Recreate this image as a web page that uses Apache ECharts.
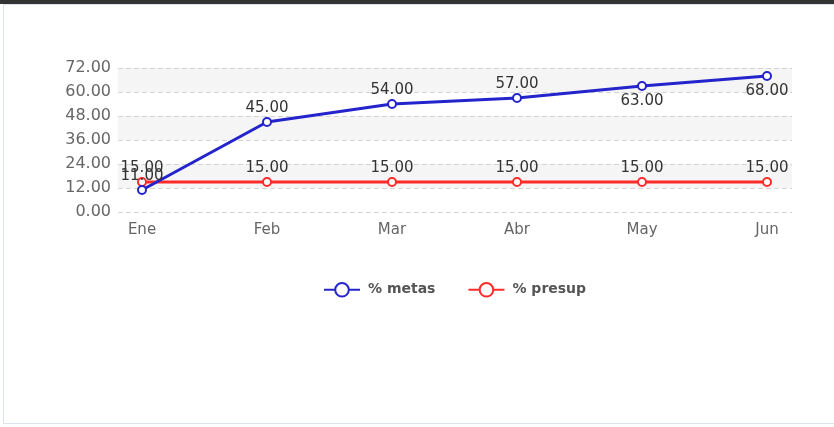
<!DOCTYPE html>
<html>
<head>
<meta charset="utf-8">
<script src="https://cdn.jsdelivr.net/npm/echarts@6/dist/echarts.min.js"></script>
<style>
  html, body { margin: 0; padding: 0; background: #fff; }
  #bar { position: absolute; left: 0; top: 0; width: 834px; height: 4px; background: #333; }
  #panel { position: absolute; left: 3px; top: 4px; width: 840px; height: 418px; border: 1px solid #dde3ea; }
  #chart { position: absolute; left: 0; top: 0; width: 834px; height: 427px; }
</style>
</head>
<body>
<div id="bar"></div>
<div id="panel"></div>
<div id="chart"></div>
<script>
// months and series
const months = ['Ene', 'Feb', 'Mar', 'Abr', 'May', 'Jun'];
const metas = [11, 45, 54, 57, 63, 68];
const presup = [15, 15, 15, 15, 15, 15];
// label side per point of "% metas" (the top two sit under their points)
const metasLabelPos = ['top', 'top', 'top', 'top', 'bottom', 'bottom'];

const font = 'DejaVu Sans';
const yMin = 0, yMax = 72, yStep = 12;

const chart = echarts.init(document.getElementById('chart'), null, { renderer: 'canvas' });

chart.setOption({
  animation: false,
  textStyle: { fontFamily: font },
  grid: [
    // background grid: bands, dashed lines and y labels, wider than the data
    { left: 118, right: 42, top: 68, bottom: 215 },
    // data grid: first and last month sit inside the bands
    { left: 142, right: 67, top: 68, bottom: 215 }
  ],
  xAxis: [
    { gridIndex: 0, type: 'category', data: months, show: false },
    {
      gridIndex: 1, type: 'category', data: months, boundaryGap: false,
      axisLine: { show: false }, axisTick: { show: false },
      axisLabel: { color: '#666', fontSize: 15, margin: 11, fontFamily: font }
    }
  ],
  yAxis: [
    {
      gridIndex: 0, type: 'value', min: yMin, max: yMax, interval: yStep,
      axisLine: { show: false }, axisTick: { show: false },
      axisLabel: {
        color: '#666', fontSize: 16, margin: 7, fontFamily: font,
        formatter: v => v.toFixed(2)
      },
      splitLine: { lineStyle: { color: '#d4d4d4', type: [5, 3] } },
      splitArea: { show: true, areaStyle: { color: ['rgba(255,255,255,0)', '#f5f5f5'] } }
    },
    {
      gridIndex: 1, type: 'value', min: yMin, max: yMax, interval: yStep,
      show: false, splitLine: { show: false }
    }
  ],
  legend: {
    left: 318, top: 277,
    itemWidth: 36, itemHeight: 17, itemGap: 32,
    textStyle: { color: '#555', fontSize: 14, fontWeight: 'bold', fontFamily: font, padding: [0, 0, 0, 3] },
    data: ['% metas', '% presup']
  },
  series: [
    {
      name: '% presup', type: 'line', xAxisIndex: 1, yAxisIndex: 1,
      data: presup,
      symbol: 'emptyCircle', symbolSize: 8,
      itemStyle: { color: '#ff2b2b', borderWidth: 1.5 },
      lineStyle: { color: '#ff2b2b', width: 3 },
      label: {
        show: true, position: 'top', distance: 1,
        color: '#333', fontSize: 15, fontFamily: font,
        formatter: p => p.value.toFixed(2)
      }
    },
    {
      name: '% metas', type: 'line', xAxisIndex: 1, yAxisIndex: 1,
      data: metas.map((v, i) => ({
        value: v,
        label: { position: metasLabelPos[i], distance: metasLabelPos[i] === 'top' ? 1 : 3 }
      })),
      symbol: 'emptyCircle', symbolSize: 8,
      itemStyle: { color: '#2424cc', borderWidth: 1.5 },
      lineStyle: { color: '#2424cc', width: 3 },
      label: {
        show: true,
        color: '#333', fontSize: 15, fontFamily: font,
        formatter: p => p.value.toFixed(2)
      }
    }
  ]
});
</script>
</body>
</html>
